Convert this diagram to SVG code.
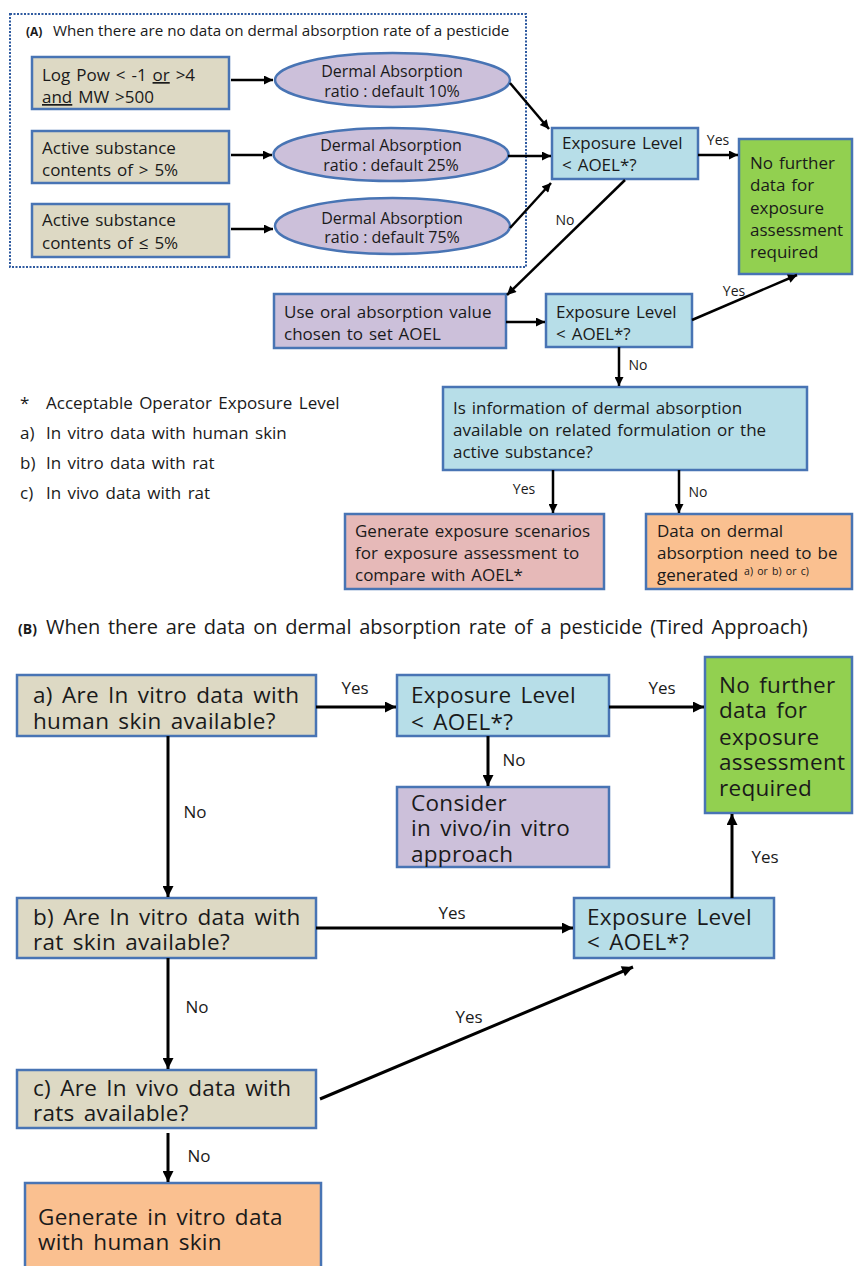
<svg xmlns="http://www.w3.org/2000/svg" width="854" height="1266" viewBox="0 0 854 1266">
<defs>
<style>
text{font-family:"Open Sans","Noto Sans","DejaVu Sans",sans-serif;fill:#1a1a1a}
.box{stroke:#4874B4;stroke-width:2.5}
.tan{fill:#DDD9C4}
.blue{fill:#B7DEE8}
.lav{fill:#CCC0DA}
.green{fill:#92D050}
.pink{fill:#E6B9B8}
.orange{fill:#FAC090}
.a{font-size:17px;word-spacing:1.5px}
.el{font-size:16px}
.lbl{font-size:14px}
.b{font-size:22.5px;word-spacing:3px;letter-spacing:0.3px}
.lblB{font-size:17px}
.leg{font-size:17px;word-spacing:2px}
.con line{stroke:#000;stroke-width:2.5;fill:none}
.conB line{stroke:#000;stroke-width:3;fill:none}
</style>
<marker id="ah" viewBox="0 0 10 10" refX="10" refY="5" markerWidth="11" markerHeight="9" orient="auto" markerUnits="userSpaceOnUse"><path d="M0,0 L10,5 L0,10 z" fill="#000"/></marker>
<marker id="ahB" viewBox="0 0 10 10" refX="10" refY="5" markerWidth="13" markerHeight="11" orient="auto" markerUnits="userSpaceOnUse"><path d="M0,0 L10,5 L0,10 z" fill="#000"/></marker>
</defs>
<rect width="854" height="1266" fill="#fff"/>

<!-- Part A frame and title -->
<rect id="frameA" x="10" y="14" width="516" height="253" fill="none" stroke="#2E5AA0" stroke-width="2" stroke-dasharray="2,1.5"/>
<text id="titleA" x="26" y="36"><tspan font-size="12" font-weight="bold">(A)</tspan><tspan x="53" font-size="15.2">When there are no data on dermal absorption rate of a pesticide</tspan></text>

<g id="nA1"><rect class="box tan" x="32" y="57" width="197" height="52"/>
<text class="a" x="42" y="81" word-spacing="4">Log Pow &lt; -1 <tspan text-decoration="underline">or</tspan> &gt;4</text>
<text class="a" x="42" y="103" word-spacing="4"><tspan text-decoration="underline">and</tspan> MW &gt;500</text></g>
<g id="nA2"><rect class="box tan" x="32" y="131" width="197" height="52"/>
<text class="a" x="42" y="154">Active substance</text>
<text class="a" x="42" y="176" word-spacing="3">contents of &gt; 5%</text></g>
<g id="nA3"><rect class="box tan" x="32" y="204" width="197" height="53"/>
<text class="a" x="42" y="226">Active substance</text>
<text class="a" x="42" y="249" word-spacing="3">contents of ≤ 5%</text></g>

<g id="eA1"><ellipse class="box lav" cx="392.5" cy="80" rx="117.5" ry="27"/>
<text class="el" x="392" y="77" text-anchor="middle">Dermal Absorption</text>
<text class="el" x="392" y="97" text-anchor="middle">ratio : default 10%</text></g>
<g id="eA2"><ellipse class="box lav" cx="391" cy="154.5" rx="117.5" ry="26.5"/>
<text class="el" x="391" y="151" text-anchor="middle">Dermal Absorption</text>
<text class="el" x="391" y="171" text-anchor="middle">ratio : default 25%</text></g>
<g id="eA3"><ellipse class="box lav" cx="392.5" cy="226" rx="117.5" ry="28"/>
<text class="el" x="392" y="224" text-anchor="middle">Dermal Absorption</text>
<text class="el" x="392" y="243" text-anchor="middle">ratio : default 75%</text></g>

<g id="expA1"><rect class="box blue" x="552" y="128" width="146" height="51"/>
<text class="a" x="562" y="149">Exposure Level</text>
<text class="a" x="562" y="171">&lt; AOEL*?</text></g>

<g id="greenA"><rect class="box green" x="739" y="139" width="113" height="135"/>
<text class="a" x="750" y="169">No further</text>
<text class="a" x="750" y="191">data for</text>
<text class="a" x="750" y="214">exposure</text>
<text class="a" x="750" y="236">assessment</text>
<text class="a" x="750" y="258">required</text></g>

<g id="oralA"><rect class="box lav" x="274" y="294" width="232" height="54"/>
<text class="a" x="284" y="318">Use oral absorption value</text>
<text class="a" x="284" y="340">chosen to set AOEL</text></g>

<g id="expA2"><rect class="box blue" x="546" y="294" width="146" height="53"/>
<text class="a" x="556" y="318">Exposure Level</text>
<text class="a" x="556" y="340">&lt; AOEL*?</text></g>

<g id="infoA"><rect class="box blue" x="443" y="387" width="364" height="83"/>
<text class="a" x="453" y="414">Is information of dermal absorption</text>
<text class="a" x="453" y="436">available on related formulation or the</text>
<text class="a" x="453" y="458">active substance?</text></g>

<g id="scenA"><rect class="box pink" x="345" y="514" width="259" height="75"/>
<text class="a" x="355" y="537">Generate exposure scenarios</text>
<text class="a" x="355" y="559">for exposure assessment to</text>
<text class="a" x="355" y="581">compare with AOEL*</text></g>

<g id="dataA"><rect class="box orange" x="646" y="514" width="206" height="75"/>
<text class="a" x="657" y="537">Data on dermal</text>
<text class="a" x="657" y="559">absorption need to be</text>
<text class="a" x="657" y="581">generated <tspan font-size="10.5" dy="-6">a) or b) or c)</tspan></text></g>

<g id="legend">
<text class="leg" x="20" y="409">*</text><text class="leg" x="46" y="409">Acceptable Operator Exposure Level</text>
<text class="leg" x="20" y="439">a)</text><text class="leg" x="46" y="439">In vitro data with human skin</text>
<text class="leg" x="20" y="469">b)</text><text class="leg" x="46" y="469">In vitro data with rat</text>
<text class="leg" x="20" y="499">c)</text><text class="leg" x="46" y="499">In vivo data with rat</text>
</g>

<g id="connectorsA" class="con">
<line x1="231" y1="80" x2="273" y2="80" marker-end="url(#ah)"/>
<line x1="231" y1="155" x2="272" y2="155" marker-end="url(#ah)"/>
<line x1="231" y1="229" x2="273" y2="229" marker-end="url(#ah)"/>
<line x1="510" y1="83" x2="549" y2="129" marker-end="url(#ah)"/>
<line x1="508" y1="156" x2="551" y2="156" marker-end="url(#ah)"/>
<line x1="510" y1="228" x2="551" y2="183" marker-end="url(#ah)"/>
<line x1="698" y1="155" x2="738" y2="155" marker-end="url(#ah)"/>
<line x1="625" y1="180" x2="507" y2="295" marker-end="url(#ah)"/>
<line x1="506" y1="322" x2="545" y2="322" marker-end="url(#ah)"/>
<line x1="692" y1="320" x2="797" y2="275" marker-end="url(#ah)"/>
<line x1="619" y1="347" x2="619" y2="386" marker-end="url(#ah)"/>
<line x1="553" y1="470" x2="553" y2="513" marker-end="url(#ah)"/>
<line x1="679" y1="470" x2="679" y2="513" marker-end="url(#ah)"/>
</g>
<g id="labelsA">
<text class="lbl" x="718" y="145" text-anchor="middle">Yes</text>
<text class="lbl" x="565" y="225" text-anchor="middle">No</text>
<text class="lbl" x="734" y="296" text-anchor="middle">Yes</text>
<text class="lbl" x="638" y="370" text-anchor="middle">No</text>
<text class="lbl" x="524" y="494" text-anchor="middle">Yes</text>
<text class="lbl" x="698" y="497" text-anchor="middle">No</text>
</g>

<!-- Part B -->
<text id="titleB" x="18" y="634"><tspan font-size="14" font-weight="bold">(B)</tspan><tspan x="46" font-size="20" word-spacing="2.5">When there are data on dermal absorption rate of a pesticide (Tired Approach)</tspan></text>

<g id="bA"><rect class="box tan" x="17" y="675" width="299" height="61"/>
<text class="b" x="33" y="703">a) Are In vitro data with</text>
<text class="b" x="33" y="729">human skin available?</text></g>

<g id="expB1"><rect class="box blue" x="397" y="675" width="212" height="61"/>
<text class="b" x="411" y="703">Exposure Level</text>
<text class="b" x="411" y="730">&lt; AOEL*?</text></g>

<g id="greenB"><rect class="box green" x="705" y="657" width="147" height="156"/>
<text class="b" x="719" y="693">No further</text>
<text class="b" x="719" y="718">data for</text>
<text class="b" x="719" y="745">exposure</text>
<text class="b" x="719" y="770">assessment</text>
<text class="b" x="719" y="796">required</text></g>

<g id="considerB"><rect class="box lav" x="397" y="787" width="212" height="80"/>
<text class="b" x="411" y="811">Consider</text>
<text class="b" x="411" y="836">in vivo/in vitro</text>
<text class="b" x="411" y="862">approach</text></g>

<g id="bB"><rect class="box tan" x="17" y="898" width="299" height="60"/>
<text class="b" x="33" y="925">b) Are In vitro data with</text>
<text class="b" x="33" y="950">rat skin available?</text></g>

<g id="expB2"><rect class="box blue" x="574" y="898" width="200" height="60"/>
<text class="b" x="587" y="925">Exposure Level</text>
<text class="b" x="587" y="950">&lt; AOEL*?</text></g>

<g id="bC"><rect class="box tan" x="17" y="1070" width="299" height="58"/>
<text class="b" x="33" y="1096">c) Are In vivo data with</text>
<text class="b" x="33" y="1121">rats available?</text></g>

<g id="genB"><rect class="box orange" x="25" y="1183" width="296" height="90"/>
<text class="b" x="38" y="1225">Generate in vitro data</text>
<text class="b" x="38" y="1250">with human skin</text></g>

<g id="connectorsB" class="conB">
<line x1="316" y1="707" x2="396" y2="707" marker-end="url(#ahB)"/>
<line x1="609" y1="707" x2="704" y2="707" marker-end="url(#ahB)"/>
<line x1="488" y1="736" x2="488" y2="786" marker-end="url(#ahB)"/>
<line x1="168" y1="736" x2="168" y2="897" marker-end="url(#ahB)"/>
<line x1="316" y1="928" x2="573" y2="928" marker-end="url(#ahB)"/>
<line x1="732" y1="898" x2="732" y2="814" marker-end="url(#ahB)"/>
<line x1="168" y1="958" x2="168" y2="1069" marker-end="url(#ahB)"/>
<line x1="320" y1="1099" x2="633" y2="967" marker-end="url(#ahB)"/>
<line x1="168" y1="1133" x2="168" y2="1182" marker-end="url(#ahB)"/>
</g>
<g id="labelsB">
<text class="lblB" x="355" y="694" text-anchor="middle">Yes</text>
<text class="lblB" x="662" y="694" text-anchor="middle">Yes</text>
<text class="lblB" x="514" y="766" text-anchor="middle">No</text>
<text class="lblB" x="195" y="818" text-anchor="middle">No</text>
<text class="lblB" x="452" y="919" text-anchor="middle">Yes</text>
<text class="lblB" x="765" y="863" text-anchor="middle">Yes</text>
<text class="lblB" x="197" y="1013" text-anchor="middle">No</text>
<text class="lblB" x="469" y="1023" text-anchor="middle">Yes</text>
<text class="lblB" x="199" y="1162" text-anchor="middle">No</text>
</g>
</svg>
